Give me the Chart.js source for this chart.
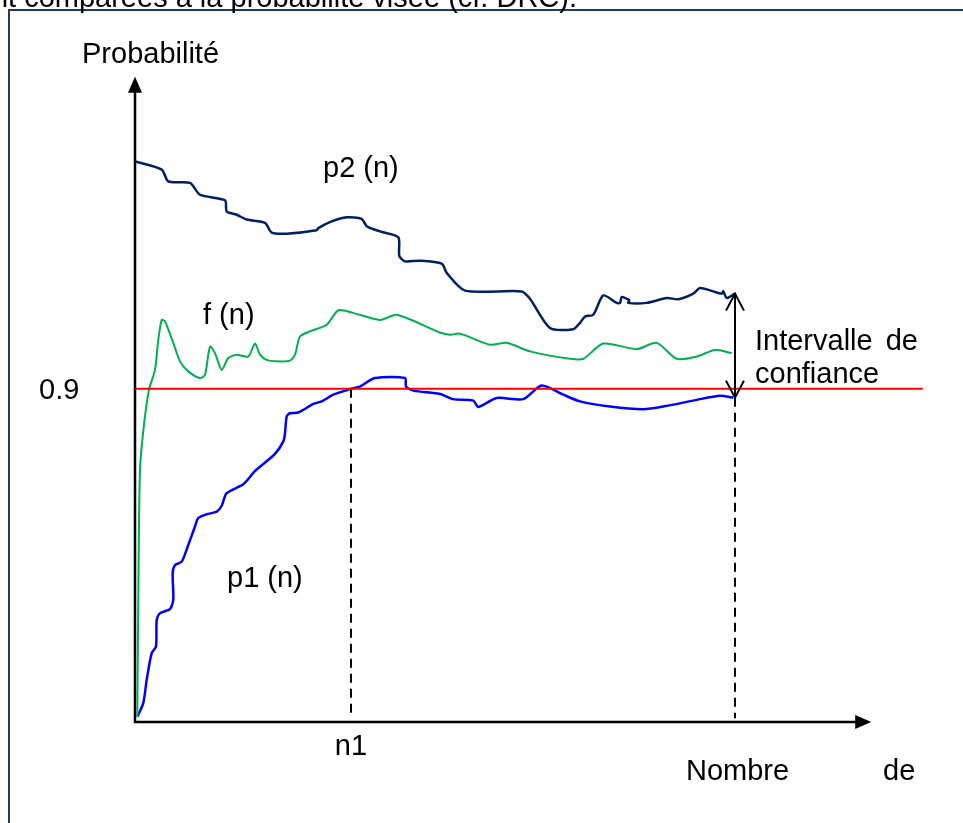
<!DOCTYPE html>
<html lang="fr">
<head>
<meta charset="utf-8">
<title>Probabilité</title>
<script src="https://cdn.jsdelivr.net/npm/chart.js"></script>
<style>
    html, body { margin: 0; padding: 0; background: #fff; }
    #wrap { position: relative; width: 963px; height: 823px; }
</style>
</head>
<body>
<div id="wrap"><canvas id="chart"></canvas></div>
<script>
// n (nombre d'essais) on x, probability on y
const targetP = 0.9;
const n1 = 36;
const nEnd = 100;
const xArrowEnd = 122.7;
const yArrowEnd = 1.743;
const redLineEnd = 131.3;

// upper bound p2(n)
const p2Points = [
    [0, 1.514], [4.45, 1.492], [5.55, 1.460], [9.17, 1.456], [10.83, 1.424],
    [15, 1.409], [15.28, 1.379], [16.95, 1.370], [18.62, 1.357], [21.67, 1.348],
    [22.78, 1.322], [25.28, 1.319], [30.28, 1.328], [30.55, 1.334], [32.78, 1.352],
    [35.28, 1.363], [37.78, 1.359], [38.62, 1.339], [40.83, 1.325], [43.88, 1.309],
    [44.05, 1.259], [45, 1.244], [47.5, 1.246], [51.12, 1.238], [51.95, 1.213],
    [55, 1.165], [64.45, 1.163], [65.83, 1.143], [69.17, 1.064], [73.05, 1.061],
    [74.17, 1.078], [75, 1.095], [76.38, 1.100], [78.05, 1.152], [80.28, 1.132],
    [80.83, 1.132], [81.12, 1.148], [81.95, 1.143], [82.38, 1.139], [82.22, 1.132],
    [85.28, 1.132], [88.62, 1.145], [90.55, 1.142], [93.05, 1.157], [94.17, 1.172],
    [96.95, 1.160], [97.78, 1.157], [98.05, 1.163], [98.62, 1.145], [100, 1.157]
];

// observed frequency f(n)
const fPoints = [
    [0.38, 0.014], [0.55, 0.330], [0.83, 0.681], [1.5, 0.803], [2.33, 0.897],
    [3.33, 0.951], [3.88, 1.032], [4.45, 1.086], [5, 1.082], [6.38, 1.024],
    [7.5, 0.974], [8.88, 0.947], [10.83, 0.929], [11.67, 0.938], [12.5, 1.014],
    [13.33, 0.996], [14.45, 0.951], [15.55, 0.983], [16.95, 0.992], [18.88, 0.987],
    [20, 1.022], [20.83, 0.992], [21.95, 0.978], [23.62, 0.974], [25.83, 0.976],
    [26.67, 0.992], [27.5, 1.041], [29.17, 1.055], [31.95, 1.073], [33.88, 1.112],
    [36.33, 1.105], [40.83, 1.086], [43.62, 1.100], [50.83, 1.052], [52.5, 1.046],
    [54.17, 1.049], [59.17, 1.019], [61.95, 1.024], [65.83, 1.001], [72.5, 0.981],
    [74.72, 0.981], [78.05, 1.022], [83.62, 1.007], [86.95, 1.024], [90.28, 0.981],
    [93.62, 0.987], [96.67, 1.005], [99.45, 0.996]
];

// lower bound p1(n)
const p1Points = [
    [0.38, 0.014], [1.38, 0.051], [1.95, 0.114], [2.78, 0.186], [3.5, 0.204],
    [3.62, 0.276], [4.17, 0.294], [5.83, 0.305], [6.38, 0.330], [6.28, 0.402],
    [6.67, 0.424], [7.78, 0.433], [8.88, 0.478], [10, 0.528], [10.55, 0.551],
    [11.95, 0.561], [13.62, 0.568], [14.45, 0.584], [15.28, 0.618], [18.05, 0.642],
    [20, 0.678], [21.38, 0.697], [23.33, 0.724], [24.72, 0.758], [25, 0.780],
    [25.28, 0.825], [25.83, 0.834], [27.22, 0.836], [29.72, 0.859], [31.12, 0.866],
    [33.05, 0.884], [36, 0.900], [37.5, 0.906], [40, 0.929], [45, 0.929],
    [45.17, 0.906], [46.38, 0.895], [50.83, 0.886], [53.05, 0.872], [56.38, 0.868],
    [57.22, 0.851], [60.28, 0.875], [64.72, 0.872], [67.78, 0.909], [71.38, 0.884],
    [74.17, 0.866], [79.17, 0.852], [84.72, 0.845], [88.05, 0.852], [93.62, 0.870],
    [97.5, 0.881], [99.72, 0.876]
];

const toXY = pts => pts.map(([x, y]) => ({ x, y }));
const p1AtEnd = p1Points[p1Points.length - 1][1];
const p2AtEnd = p2Points[p2Points.length - 1][1];

const FONT = '29px "Liberation Sans", Arial, sans-serif';

function curve(data, color, width) {
    return {
        data: toXY(data),
        borderColor: color,
        borderWidth: width,
        pointRadius: 0,
        tension: 0.25,
        fill: false
    };
}

function dashed(data) {
    return {
        data: toXY(data),
        borderColor: "#000",
        borderWidth: 2,
        borderDash: [9, 6],
        pointRadius: 0,
        tension: 0,
        fill: false
    };
}

// frame, axes with arrow heads, confidence interval arrow and labels
const sketch = {
    id: "sketch",
    beforeDatasetsDraw(chart) {
        const { ctx } = chart;
        const xs = chart.scales.x, ys = chart.scales.y;
        const x0 = xs.getPixelForValue(0), y0 = ys.getPixelForValue(0);

        ctx.save();
        // page frame
        ctx.strokeStyle = "#1f3864";
        ctx.lineWidth = 2;
        ctx.beginPath();
        ctx.moveTo(9, 900);
        ctx.lineTo(9, 10);
        ctx.lineTo(1000, 10);
        ctx.stroke();

        ctx.fillStyle = "#000";
        ctx.font = FONT;
        ctx.textAlign = "right";
        ctx.textBaseline = "alphabetic";
        ctx.fillText("sont comparées à la probabilité visée (cf. DRC).", 577, 7);

        // axes
        const yTop = ys.getPixelForValue(yArrowEnd);
        const xRight = xs.getPixelForValue(xArrowEnd);
        ctx.strokeStyle = "#000";
        ctx.lineWidth = 2.5;
        ctx.beginPath();
        ctx.moveTo(x0, yTop + 14);
        ctx.lineTo(x0, y0);
        ctx.lineTo(xRight - 14, y0);
        ctx.stroke();
        ctx.beginPath();
        ctx.moveTo(x0, yTop);
        ctx.lineTo(x0 - 7, yTop + 16);
        ctx.lineTo(x0 + 7, yTop + 16);
        ctx.closePath();
        ctx.fill();
        ctx.beginPath();
        ctx.moveTo(xRight, y0);
        ctx.lineTo(xRight - 16, y0 - 7);
        ctx.lineTo(xRight - 16, y0 + 7);
        ctx.closePath();
        ctx.fill();
        ctx.restore();
    },
    afterDatasetsDraw(chart) {
        const { ctx } = chart;
        const xs = chart.scales.x, ys = chart.scales.y;

        ctx.save();
        // confidence interval double arrow
        const ax = xs.getPixelForValue(nEnd);
        const aTop = ys.getPixelForValue(p2AtEnd);
        const aBot = ys.getPixelForValue(p1AtEnd);
        ctx.strokeStyle = "#000";
        ctx.lineWidth = 2;
        ctx.beginPath();
        ctx.moveTo(ax, aTop);
        ctx.lineTo(ax, aBot);
        ctx.moveTo(ax - 9, aTop + 17);
        ctx.lineTo(ax, aTop);
        ctx.lineTo(ax + 9, aTop + 17);
        ctx.moveTo(ax - 9, aBot - 17);
        ctx.lineTo(ax, aBot);
        ctx.lineTo(ax + 9, aBot - 17);
        ctx.stroke();

        ctx.fillStyle = "#000";
        ctx.font = FONT;
        ctx.textBaseline = "alphabetic";
        ctx.textAlign = "left";
        ctx.fillText("Probabilité", 82, 63);
        ctx.fillText("p2 (n)", 323, 177);
        ctx.fillText("f (n)", 203, 324);
        ctx.fillText("p1 (n)", 227, 587);
        ctx.fillText("0.9", 39, ys.getPixelForValue(targetP) + 10);
        ctx.fillText("Intervalle", 755, 350);
        ctx.fillText("confiance", 755, 383);
        ctx.fillText("Nombre", 686, 780);
        ctx.fillText("de", 883, 780);
        ctx.textAlign = "right";
        ctx.fillText("de", 918, 350);
        ctx.textAlign = "center";
        ctx.fillText("n1", xs.getPixelForValue(n1), 755);
        ctx.restore();
    }
};

new Chart(document.getElementById("chart"), {
    type: "line",
    data: {
        datasets: [
            {
                data: toXY([[0, targetP], [redLineEnd, targetP]]),
                borderColor: "#ff0000",
                borderWidth: 2,
                pointRadius: 0,
                tension: 0
            },
            dashed([[n1, targetP], [n1, 0.01]]),
            dashed([[nEnd, p1AtEnd], [nEnd, 0.01]]),
            curve(p2Points, "#002060", 2.5),
            curve(fPoints, "#00b050", 2),
            curve(p1Points, "#0000ff", 2.5)
        ]
    },
    options: {
        responsive: true,
        maintainAspectRatio: false,
        animation: false,
        devicePixelRatio: 1,
        layout: { padding: { left: 135, right: 0, top: 0, bottom: 101 } },
        plugins: {
            legend: { display: false },
            tooltip: { enabled: false }
        },
        scales: {
            x: { type: "linear", min: 0, max: 138, display: false },
            y: { type: "linear", min: 0, max: 1.95, display: false }
        }
    },
    plugins: [sketch]
});
</script>
</body>
</html>
